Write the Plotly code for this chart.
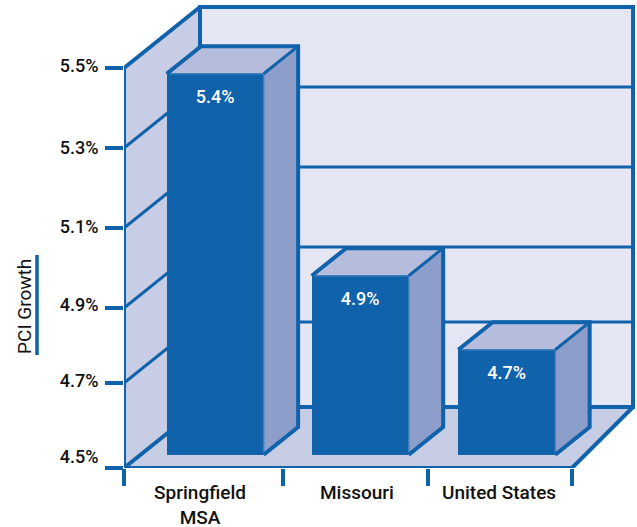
import plotly.graph_objects as go

# --- data ---
categories = ["Springfield<br>MSA", "Missouri", "United States"]
bar_values = [5.4525, 4.9475, 4.7625]
bar_labels = ["5.4%", "4.9%", "4.7%"]
y_grid = [4.5, 4.7125, 4.9, 5.1, 5.3, 5.5]
y_tick_text = ["4.5%", "4.7%", "4.9%", "5.1%", "5.3%", "5.5%"]
y_label_pos = [4.5275, 4.7175, 4.9075, 5.1025, 5.3, 5.505]
x_label_pos = [0.519, 1.59, 2.56]
x_slot_edges = [0, 1.085, 2.075, 3.058]
bar_centers = [0.51, 1.5, 2.5]

# --- projection of the fake 3D box ---
BASE = 4.5
TOP = 5.5
XMAX = 3.058
XMAX_BACK = 2.956
BAR_W = 0.662
DX = 76 / 146.5
DY = 61 / 400
D_FRONT = 0.2167
D_BACK = 0.67
LABEL_DROP = 0.0625

BLUE = "#1062ab"
EDGE = "#3f7fbd"
WALL = "#c8cde6"
BACK = "#e5e6f3"
TOPF = "#b6bcdc"
SIDE = "#8d9eca"
FONT = "Roboto"


def px(x, d):
    return x + d * DX


def py(y, d):
    return y + d * DY


def poly(pts, fill=None, line=None, width=0, axes=("x", "y"), closed=True):
    xs = [px(p[0], p[2]) for p in pts]
    ys = [py(p[1], p[2]) for p in pts]
    if closed:
        xs.append(xs[0])
        ys.append(ys[0])
    return go.Scatter(
        x=xs, y=ys, mode="lines", xaxis=axes[0], yaxis=axes[1], showlegend=False,
        hoverinfo="skip", cliponaxis=False,
        fill="toself" if fill else None, fillcolor=fill,
        line=dict(color=line or "rgba(0,0,0,0)", width=width, shape="linear"),
    )


fig = go.Figure()

# walls and floor
fig.add_trace(poly([(0, BASE, 1), (0, TOP, 1), (XMAX_BACK, TOP, 1), (XMAX_BACK, BASE, 1)], fill=BACK))
fig.add_trace(poly([(0, BASE, 0), (0, TOP, 0), (0, TOP, 1), (0, BASE, 1)], fill=WALL))
fig.add_trace(poly([(0, BASE, 0), (XMAX, BASE, 0), (XMAX_BACK, BASE, 1), (0, BASE, 1)], fill=WALL))

# grid lines
for v in y_grid[1:-1]:
    fig.add_trace(poly([(0, v, 0), (0, v, 1), (XMAX_BACK, v, 1)], line=BLUE, width=3, closed=False))

# frame
fig.add_trace(poly([(0, BASE, 1), (0, TOP, 1), (XMAX_BACK, TOP, 1), (XMAX_BACK, BASE, 1), (0, BASE, 1)],
                   line=BLUE, width=4, closed=False))
fig.add_trace(poly([(0, BASE, 0), (0, TOP, 0), (0, TOP, 1)], line=BLUE, width=4, closed=False))
fig.add_trace(poly([(0, BASE, 1), (0, BASE, 0), (XMAX, BASE, 0), (XMAX_BACK, BASE, 1)],
                   line=BLUE, width=4, closed=False))

# bars: front faces via the bar trace, on an overlaid pair of axes
ov = ("x2", "y2")
base_front = py(BASE, D_FRONT)
fig.add_trace(go.Bar(
    x=[px(c, D_FRONT) for c in bar_centers],
    y=[py(v, D_FRONT) - base_front for v in bar_values],
    base=base_front, width=BAR_W, xaxis="x2", yaxis="y2",
    marker=dict(color=BLUE, line=dict(width=0)), showlegend=False, hoverinfo="skip",
))

for c, v in zip(bar_centers, bar_values):
    l, r = c - BAR_W / 2, c + BAR_W / 2
    fig.add_trace(poly([(r, BASE, D_FRONT), (r, v, D_FRONT), (r, v, D_BACK), (r, BASE, D_BACK)],
                       fill=SIDE, axes=ov))
    fig.add_trace(poly([(l, v, D_FRONT), (r, v, D_FRONT), (r, v, D_BACK), (l, v, D_BACK)],
                       fill=TOPF, axes=ov))
    # inner edges
    fig.add_trace(poly([(l, v, D_FRONT), (r, v, D_FRONT), (r, BASE, D_FRONT)],
                       line=EDGE, width=1.5, axes=ov, closed=False))
    # outer silhouette
    fig.add_trace(poly([(r, BASE, D_FRONT), (r, BASE, D_BACK), (r, v, D_BACK), (l, v, D_BACK), (l, v, D_FRONT)],
                       line=BLUE, width=4, axes=ov, closed=False))
    fig.add_trace(poly([(r, v, D_FRONT), (r, v, D_BACK)], line=BLUE, width=3, axes=ov, closed=False))

# value labels
fig.add_trace(go.Scatter(
    x=[px(c, D_FRONT) for c in bar_centers],
    y=[py(v, D_FRONT) - LABEL_DROP for v in bar_values],
    text=bar_labels, mode="text", xaxis="x2", yaxis="y2", showlegend=False, hoverinfo="skip",
    textfont=dict(family=FONT, size=18, color="white", weight=500), cliponaxis=False,
))

XR = [0, 513 / 146.5]
YR = [4.5, 4.5 + 468 / 400]
y_font = dict(family=FONT, size=18, color="#111111", weight=500)
x_font = dict(family=FONT, size=19, color="#111111", weight=500)
fig.update_layout(
    width=637, height=527, autosize=False,
    margin=dict(l=124, r=0, t=0, b=59, pad=0, autoexpand=False),
    paper_bgcolor="white", plot_bgcolor="white", showlegend=False, bargap=0,
    xaxis=dict(
        range=XR, fixedrange=True, showgrid=False, zeroline=False, showline=False,
        automargin=False,
        tickmode="array", tickvals=x_label_pos, ticktext=categories, tickangle=0,
        ticks="outside", ticklen=7, tickcolor="rgba(0,0,0,0)", tickfont=x_font,
        minor=dict(tickmode="array", tickvals=x_slot_edges, ticks="outside", ticklen=17,
                   tickwidth=4, tickcolor=BLUE, showgrid=False),
    ),
    yaxis=dict(
        range=YR, fixedrange=True, showgrid=False, zeroline=False, showline=False,
        automargin=False,
        tickmode="array", tickvals=y_label_pos, ticktext=y_tick_text,
        ticks="outside", ticklen=21, tickcolor="rgba(0,0,0,0)", tickfont=y_font,
        minor=dict(tickmode="array", tickvals=y_grid, ticks="outside", ticklen=18,
                   tickwidth=4, tickcolor=BLUE, showgrid=False),
    ),
    xaxis2=dict(range=XR, overlaying="x", visible=False, fixedrange=True, anchor="y2"),
    yaxis2=dict(range=YR, overlaying="y", visible=False, fixedrange=True, anchor="x2"),
    annotations=[dict(
        text="PCI Growth", textangle=-90, xref="paper", yref="y", x=-0.195, y=4.905,
        showarrow=False, xanchor="center", yanchor="middle",
        font=dict(family=FONT, size=19, color="#111111"),
    )],
    shapes=[dict(type="line", xref="paper", yref="y", x0=-0.1696, x1=-0.1696, y0=4.7825, y1=5.0325,
                 line=dict(color=BLUE, width=3.5))],
)

fig.write_html("out.html", post_script="document.body.style.margin='0';",
               config={"displayModeBar": False})
